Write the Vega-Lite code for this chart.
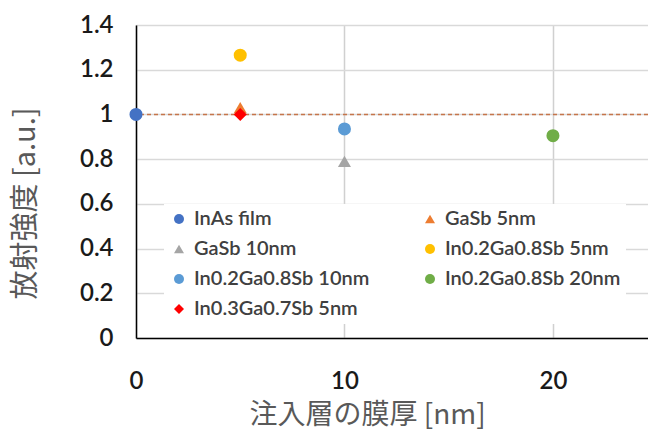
{
  "$schema": "https://vega.github.io/schema/vega-lite/v6.json",
  "width": 512,
  "height": 313,
  "autosize": {"type": "none"},
  "padding": {"left": 136, "top": 25, "right": 0, "bottom": 94},
  "background": "white",
  "config": {"view": {"stroke": null}, "font": "Lato"},
  "layer": [
    {
      "data": {"values": [{"y": 1}]},
      "mark": {"type": "rule", "color": "#C5754A", "strokeDash": [4, 3], "strokeWidth": 1.5},
      "encoding": {
        "y": {
          "field": "y",
          "type": "quantitative",
          "scale": {"domain": [0, 1.4], "nice": false, "zero": false},
          "axis": {
            "values": [0, 0.1, 0.2, 0.3, 0.4, 0.5, 0.6, 0.7, 0.8, 0.9, 1, 1.1, 1.2, 1.3, 1.4],
            "labelExpr": "round(datum.value*10)%2==1 ? '' : toString(round(datum.value*10)/10)",
            "labelFont": "Lato",
            "labelFontSize": 24,
            "labelFontWeight": 600,
            "labelColor": "#1a1a1a",
            "labelPadding": 30,
            "ticks": true,
            "tickSize": -7,
            "tickWidth": 1.5,
            "tickColor": "#404040",
            "tickOpacity": {"condition": {"test": "round(datum.value*10)%2==1", "value": 1}, "value": 0},
            "grid": true,
            "gridColor": "#d9d9d9",
            "gridWidth": 1.5,
            "gridOpacity": {"condition": {"test": "round(datum.value*10)%2==1", "value": 0}, "value": 1},
            "domainColor": "#000000",
            "domainWidth": 1.5,
            "title": "放射強度 [a.u.]",
            "titleFont": "Noto Sans CJK JP",
            "titleFontSize": 29,
            "titleFontWeight": "normal",
            "titleColor": "#595959",
            "titleAngle": -90,
            "titleX": -111,
            "titleY": 178,
            "titleBaseline": "middle",
            "titleAlign": "center"
          }
        }
      }
    },
    {
      "data": {
        "values": [
          {"x": 0, "y": 1.0, "s": "InAs film"},
          {"x": 5, "y": 1.03, "s": "GaSb 5nm"},
          {"x": 10, "y": 0.79, "s": "GaSb 10nm"},
          {"x": 5, "y": 1.265, "s": "In0.2Ga0.8Sb 5nm"},
          {"x": 10, "y": 0.935, "s": "In0.2Ga0.8Sb 10nm"},
          {"x": 20, "y": 0.905, "s": "In0.2Ga0.8Sb 20nm"},
          {"x": 5, "y": 1.0, "s": "In0.3Ga0.7Sb 5nm"}
        ]
      },
      "mark": {"type": "point", "filled": true, "size": 170, "opacity": 1},
      "encoding": {
        "x": {
          "field": "x",
          "type": "quantitative",
          "scale": {"domain": [0, 24.56], "nice": false},
          "axis": {
            "values": [0, 10, 20],
            "labelFont": "Lato",
            "labelFontSize": 24,
            "labelFontWeight": 600,
            "labelColor": "#1a1a1a",
            "labelPadding": 31,
            "labelFlush": false,
            "tickSize": 0,
            "grid": true,
            "gridColor": "#d0d0d0",
            "gridWidth": 1.5,
            "domainColor": "#000000",
            "domainWidth": 1.5,
            "title": "注入層の膜厚 [nm]",
            "titleFont": "Noto Sans CJK JP",
            "titleFontSize": 28,
            "titleFontWeight": "normal",
            "titleColor": "#595959",
            "titleX": 231,
            "titleY": 85,
            "titleBaseline": "alphabetic",
            "titleAlign": "center"
          }
        },
        "y": {"field": "y", "type": "quantitative"},
        "color": {
          "field": "s",
          "type": "nominal",
          "scale": {
            "domain": ["InAs film", "GaSb 5nm", "GaSb 10nm", "In0.2Ga0.8Sb 5nm", "In0.2Ga0.8Sb 10nm", "In0.2Ga0.8Sb 20nm", "In0.3Ga0.7Sb 5nm"],
            "range": ["#4472C4", "#ED7D31", "#A5A5A5", "#FFC000", "#5B9BD5", "#70AD47", "#FF0000"]
          },
          "legend": {
            "title": null,
            "orient": "none",
            "direction": "horizontal",
            "legendX": 28,
            "legendY": 179,
            "columns": 2,
            "fillColor": "white",
            "padding": 5,
            "symbolSize": 100,
            "labelFont": "Lato",
            "labelFontSize": 20,
            "labelFontWeight": 600,
            "labelColor": "#404040",
            "labelLimit": 400,
            "rowPadding": 10,
            "columnPadding": 50,
            "labelOffset": 5
          }
        },
        "shape": {
          "field": "s",
          "type": "nominal",
          "scale": {
            "domain": ["InAs film", "GaSb 5nm", "GaSb 10nm", "In0.2Ga0.8Sb 5nm", "In0.2Ga0.8Sb 10nm", "In0.2Ga0.8Sb 20nm", "In0.3Ga0.7Sb 5nm"],
            "range": ["circle", "triangle-up", "triangle-up", "circle", "circle", "circle", "diamond"]
          }
        }
      }
    }
  ]
}
